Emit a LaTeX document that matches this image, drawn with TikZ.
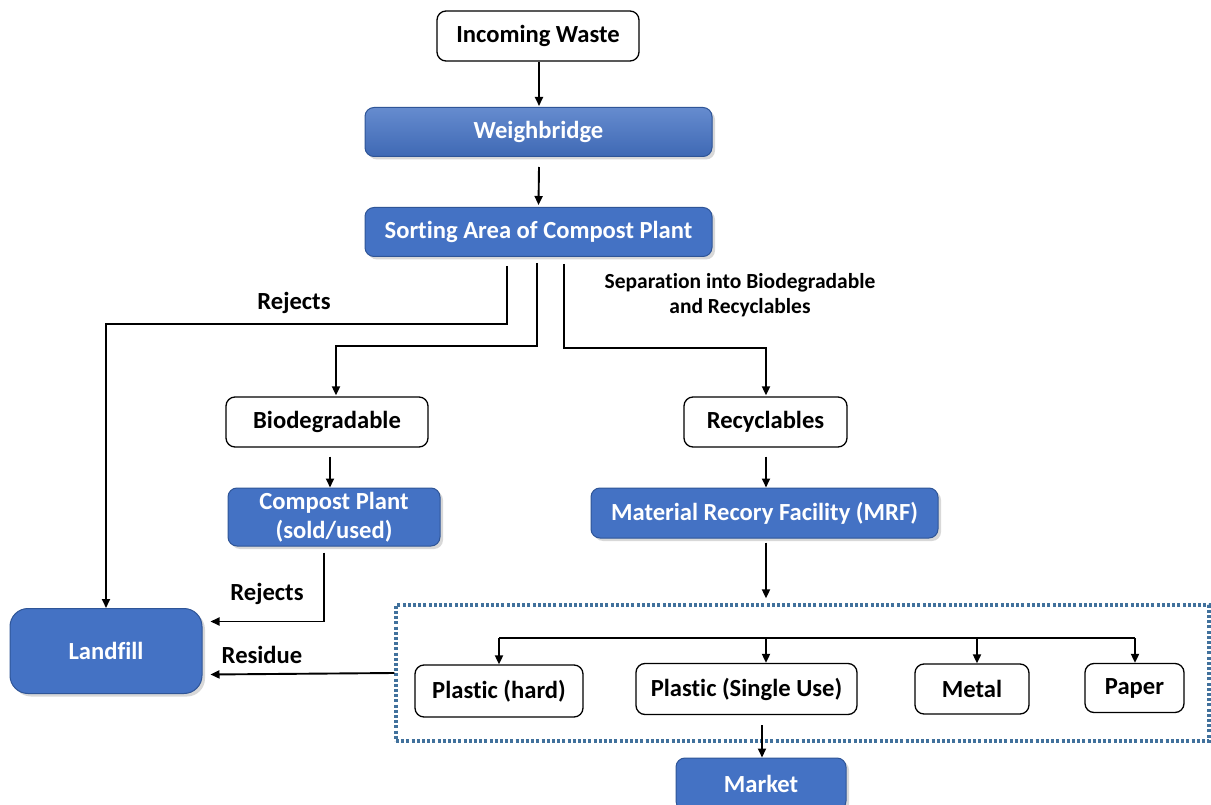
\documentclass[tikz,border=0pt]{standalone}
\usepackage{fontspec}
\setmainfont{Carlito}[Ligatures=NoCommon]
\usetikzlibrary{calc,shadows,arrows.meta}
\definecolor{boxblue}{HTML}{4472C4}
\definecolor{boxedge}{HTML}{2F5597}
\definecolor{dotblue}{HTML}{41719C}
\tikzset{
  lbl/.style={font=\fontsize{24.6}{29}\selectfont\bfseries, inner sep=0pt},
  whitebox/.style={draw=black, line width=1.3pt, fill=white, rounded corners=9pt,
    font=\fontsize{24.6}{29}\selectfont\bfseries, inner sep=0pt, align=center},
  bluebox/.style={draw=boxedge, line width=1pt, fill=boxblue, rounded corners=9pt,
    text=white, font=\fontsize{24.6}{29}\selectfont\bfseries, inner sep=0pt, align=center,
    drop shadow={opacity=0.3, shadow xshift=3pt, shadow yshift=-3pt}},
  groupbox/.style={draw=dotblue, line width=3.3pt, dash pattern=on 3pt off 2.2pt, inner sep=0pt},
  conn/.style={line width=1.9pt},
  arr/.style={conn, -{Triangle[length=9pt,width=8pt]}},
}
\begin{document}
\begin{tikzpicture}[x=1pt,y=-1pt]
\useasboundingbox[fill=white] (0,0) rectangle (1211,805);

% main column
\node[whitebox, minimum width=202pt, minimum height=50pt] (inw) at (538,36) {Incoming Waste};
\node[bluebox, minimum width=347pt, minimum height=49pt, shading=axis,
      top color=boxblue!82!white, bottom color=boxblue!92!black] (wb) at (538.5,132) {Weighbridge};
\node[bluebox, minimum width=347pt, minimum height=49pt] (sort) at (538.5,232) {Sorting Area of Compost Plant};

% branches
\node[whitebox, minimum width=202pt, minimum height=50pt] (bio) at (327,422) {Biodegradable};
\node[bluebox, minimum width=212pt, minimum height=58pt] (comp) at (334,517) {Compost Plant\\(sold/used)};
\node[whitebox, minimum width=163pt, minimum height=50pt] (rec) at (765.5,422) {Recyclables};
\node[bluebox, minimum width=347pt, minimum height=50pt] (mrf) at (764.5,513) {Material Recory Facility (MRF)};
\node[bluebox, minimum width=192pt, minimum height=85pt, rounded corners=18pt] (land) at (106,651) {Landfill};

% recovered materials group
\node[groupbox, minimum width=813pt, minimum height=136pt] (grp) at (802.5,673) {};
\node[whitebox, minimum width=168pt, minimum height=52pt] (ph) at (499,691) {Plastic (hard)};
\node[whitebox, minimum width=221pt, minimum height=51pt] (psu) at (746.5,689) {Plastic (Single Use)};
\node[whitebox, minimum width=114pt, minimum height=50pt] (metal) at (972,689) {Metal};
\node[whitebox, minimum width=99pt, minimum height=49pt] (paper) at (1134.5,688) {Paper};
\node[bluebox, minimum width=170pt, minimum height=52pt] (market) at (761,784) {Market};
\coordinate (bus) at (0,638);

% labels
\node[lbl] (rj1) at (294,303) {Rejects};
\node[lbl, font=\fontsize{21.5}{25}\selectfont\bfseries, align=center] (sep) at (740,295) {Separation into Biodegradable\\and Recyclables};
\node[lbl] (rj2) at (267,594) {Rejects};
\node[lbl] (res) at (262,655) {Residue};

% connectors
\draw[arr] ($(inw.south)+(1,0)$) -- ($(wb.north)+(0.5,-1)$);
\draw[arr] ($(wb.south)+(0.5,10)$) -- ($(sort.north)+(0,-2)$);
\draw[arr] ($(sort.south)+(-31.5,9)$) -- ++(0,58) -| (land.north);
\draw[arr] ($(sort.south)+(-1.5,6)$) -- ++(0,83) -| ($(bio.north)+(9,-1)$);
\draw[arr] ($(sort.south)+(25.5,7)$) -- ++(0,84) -| ($(rec.north)+(0.5,-1)$);
\draw[arr] ($(bio.south)+(3,9)$) -- ($(comp.north)+(-4,0)$);
\draw[arr] ($(rec.south)+(0.5,9)$) -- ($(mrf.north)+(1.5,0)$);
\draw[arr] ($(comp.south)+(-10,6)$) |- ($(land.east)+(8,-29.5)$);
\draw[arr] ($(mrf.south)+(1.5,4)$) -- ($(mrf.south |- grp.north)+(1.5,-5)$);
\draw[arr] (grp.west) -- ($(land.east)+(8,23.5)$);
\draw[conn] (ph.north |- bus) -- ($(paper.north |- bus)+(0.5,0)$);
\draw[arr] (ph.north |- bus) -- (ph.north);
\draw[arr] ($(psu.north |- bus)+(19.5,0)$) -- ($(psu.north)+(19.5,0)$);
\draw[arr] ($(metal.north |- bus)+(5,0)$) -- ($(metal.north)+(5,0)$);
\draw[arr] ($(paper.north |- bus)+(0.5,0)$) -- ($(paper.north)+(0.5,0)$);
\draw[arr] ($(psu.south)+(15.5,10)$) -- ($(market.north)+(1,0)$);
\end{tikzpicture}
\end{document}
